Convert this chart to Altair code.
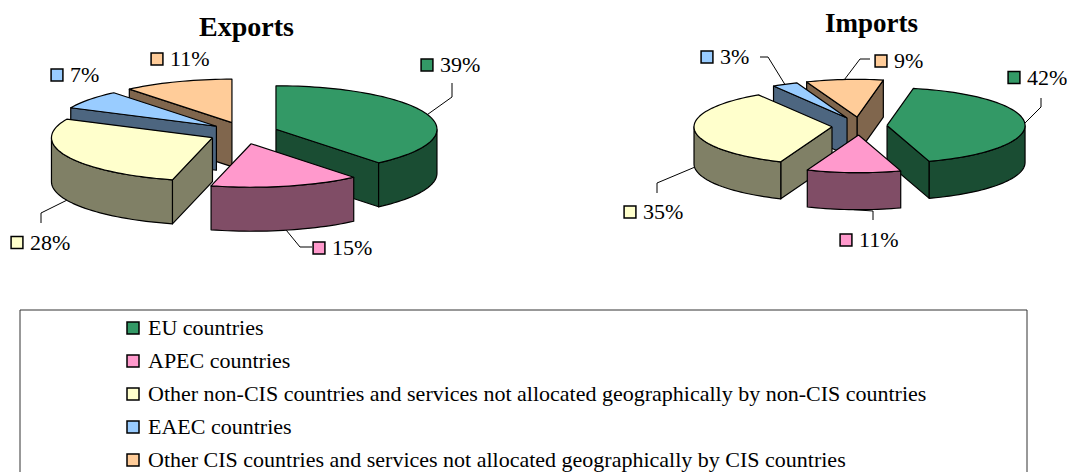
import math
import altair as alt
import pandas as pd

# ---------------- data ----------------
categories = [
    "EU countries",
    "APEC countries",
    "Other non-CIS countries and services not allocated geographically by non-CIS countries",
    "EAEC countries",
    "Other CIS countries and services not allocated geographically by CIS countries",
]
exports_share = [39, 15, 28, 7, 11]
imports_share = [42, 11, 35, 3, 9]
pie_names = ["Exports", "Imports"]

# ---------------- styles ----------------
top_colors = ["#339966", "#FF99CC", "#FFFFCC", "#99CCFF", "#FFCC99"]
side_colors = ["#1A4D33", "#804D66", "#808066", "#4D6680", "#80664D"]

# ---------------- layout (page pixels) ----------------
W, H = 1059, 464
GEOM = {
    "Exports": dict(cx=243.6, cy=133.0, a=161.0, b=43.5, h=44.0, ex=34.4, ey=11.0, rot=0.0),
    "Imports": dict(cx=859.5, cy=126.0, a=138.0, b=37.7, h=37.0, ex=27.6, ey=9.0, rot=11.0),
}
TITLE = {"Exports": (246.5, 36, 28), "Imports": (871.5, 32, 27)}
LABEL_MARKER = {
    "Exports": [(427, 65), (319, 248), (17, 242.5), (57, 75), (157, 59)],
    "Imports": [(1014, 77.5), (846, 240), (630, 212), (707, 57), (881, 61)],
}
LEADER = {
    "Exports": [[(452, 97), (452, 83)], [(300, 247), (312, 247)], [(41, 213), (41, 223)], None, None],
    "Imports": [[(1041, 107), (1041, 98)], [(873, 211), (873, 220)], [(657, 183), (657, 193)],
                [(768, 57), (760, 57)], [(860, 59), (870, 59)]],
}


def P(g, t, off, down=0.0):
    r = math.radians(t)
    return (g["cx"] + off[0] + g["a"] * math.sin(r), g["cy"] + off[1] - g["b"] * math.cos(r) + down)


def arc(g, t0, t1, off, down=0.0):
    n = max(2, int(math.ceil(abs(t1 - t0) / 2.0)) + 1)
    return [P(g, t0 + (t1 - t0) * i / (n - 1), off, down) for i in range(n)]


side_faces, top_faces, anchors = [], [], {}
for pie, shares in zip(pie_names, [exports_share, imports_share]):
    g = GEOM[pie]
    total = float(sum(shares))
    t = g["rot"]
    hgt = g["h"]
    for i, v in enumerate(shares):
        t0, t1 = t, t + 360.0 * v / total
        t = t1
        m = (t0 + t1) / 2.0
        rm = math.radians(m)
        off = (g["ex"] * math.sin(rm), -g["ey"] * math.cos(rm))
        apex = (g["cx"] + off[0], g["cy"] + off[1])
        faces = []
        for base in (90.0, 450.0):
            lo, hi = max(t0, base), min(t1, base + 180.0)
            if hi - lo > 0.01:
                faces.append(arc(g, lo, hi, off) + arc(g, hi, lo, off, hgt))
        if math.sin(math.radians(t0)) < -1e-6:
            q = P(g, t0, off)
            faces.append([apex, q, (q[0], q[1] + hgt), (apex[0], apex[1] + hgt)])
        if math.sin(math.radians(t1)) > 1e-6:
            q = P(g, t1, off)
            faces.append([apex, q, (q[0], q[1] + hgt), (apex[0], apex[1] + hgt)])
        for f in faces:
            depth = sum(p[1] for p in f) / len(f)
            side_faces.append((depth, f, side_colors[i]))
        top_faces.append(([apex] + arc(g, t0, t1, off), categories[i]))
        anchors[(pie, i)] = P(g, m, off, hgt) if math.cos(rm) < 0 else P(g, m, off)

side_rows = []
for idx, (_, pts, col) in enumerate(sorted(side_faces, key=lambda f: f[0])):
    for k, (x, y) in enumerate(pts + [pts[0]]):
        side_rows.append(dict(poly=f"s{idx:03d}", k=k, x=x, y=y, col=col))
side_df = pd.DataFrame(side_rows)

top_rows = []
for idx, (pts, cat) in enumerate(top_faces):
    for k, (x, y) in enumerate(pts + [pts[0]]):
        top_rows.append(dict(poly=f"t{idx:03d}", k=k, x=x, y=y, cat=cat))
top_df = pd.DataFrame(top_rows)

lab_rows, lead_rows = [], []
for pie, shares in zip(pie_names, [exports_share, imports_share]):
    for i, v in enumerate(shares):
        mx, my = LABEL_MARKER[pie][i]
        lab_rows.append(dict(x=mx, y=my, tx=mx + 13, cat=categories[i], txt=f"{v}%"))
        if LEADER[pie][i]:
            pts = [anchors[(pie, i)]] + LEADER[pie][i]
            for k, (x, y) in enumerate(pts):
                lead_rows.append(dict(lid=f"{pie}{i}", k=k, x=x, y=y))
lab_df = pd.DataFrame(lab_rows)
lead_df = pd.DataFrame(lead_rows)

title_df = pd.DataFrame([dict(x=TITLE[p][0], y=TITLE[p][1], fs=TITLE[p][2], txt=p) for p in pie_names])
box_df = pd.DataFrame([dict(x=20, x2=1027, y=310, y2=520)])

xs = alt.Scale(domain=[8, 8 + W], nice=False, zero=False)
ys = alt.Scale(domain=[8, 8 + H], nice=False, zero=False, reverse=True)
cat_scale = alt.Scale(domain=categories, range=top_colors)
SERIF = "Liberation Serif"

box = alt.Chart(box_df).mark_rect(fill="white", stroke="#333333", strokeWidth=1).encode(
    x=alt.X("x:Q", scale=xs, axis=None), x2="x2:Q",
    y=alt.Y("y:Q", scale=ys, axis=None), y2="y2:Q",
)

side = alt.Chart(side_df).mark_line(filled=True, stroke="black", strokeWidth=1.2, strokeJoin="round").encode(
    x=alt.X("x:Q", scale=xs, axis=None),
    y=alt.Y("y:Q", scale=ys, axis=None),
    order=alt.Order("k:Q"),
    detail="poly:N",
    color=alt.Color("col:N", scale=None, legend=None),
)

top = alt.Chart(top_df).mark_line(filled=True, stroke="black", strokeWidth=1.2, strokeJoin="round").encode(
    x=alt.X("x:Q", scale=xs, axis=None),
    y=alt.Y("y:Q", scale=ys, axis=None),
    order=alt.Order("k:Q"),
    detail="poly:N",
    color=alt.Color(
        "cat:N", scale=cat_scale,
        legend=alt.Legend(
            title=None, orient="none", legendX=114, legendY=309, symbolType="square",
            symbolSize=144, symbolStrokeColor="black", symbolStrokeWidth=1.5, symbolOpacity=1,
            labelFont=SERIF, labelFontSize=22, labelColor="black", labelLimit=2000,
            labelOffset=4, rowPadding=11,
        ),
    ),
)

leaders = alt.Chart(lead_df).mark_line(color="black", strokeWidth=1).encode(
    x=alt.X("x:Q", scale=xs, axis=None),
    y=alt.Y("y:Q", scale=ys, axis=None),
    order=alt.Order("k:Q"),
    detail="lid:N",
)

markers = alt.Chart(lab_df).mark_point(shape="square", filled=True, size=140, stroke="black",
                                        strokeWidth=1.5, opacity=1).encode(
    x=alt.X("x:Q", scale=xs, axis=None),
    y=alt.Y("y:Q", scale=ys, axis=None),
    color=alt.Color("cat:N", scale=cat_scale, legend=None),
)

labels = alt.Chart(lab_df).mark_text(align="left", baseline="middle", font=SERIF, fontSize=22,
                                     color="black").encode(
    x=alt.X("tx:Q", scale=xs, axis=None),
    y=alt.Y("y:Q", scale=ys, axis=None),
    text="txt:N",
)

titles = alt.Chart(title_df).mark_text(align="center", baseline="alphabetic", font=SERIF,
                                       fontWeight="bold", color="black").encode(
    x=alt.X("x:Q", scale=xs, axis=None),
    y=alt.Y("y:Q", scale=ys, axis=None),
    text="txt:N",
    size=alt.Size("fs:Q", scale=None),
)

chart = alt.layer(box, side, top, leaders, markers, labels, titles).resolve_scale(
    color="independent"
).properties(
    width=W, height=H, padding=0, autosize=alt.AutoSizeParams(type="none")
).configure_view(strokeWidth=0)

chart.save("out.html", embed_options={"renderer": "svg", "actions": False})
